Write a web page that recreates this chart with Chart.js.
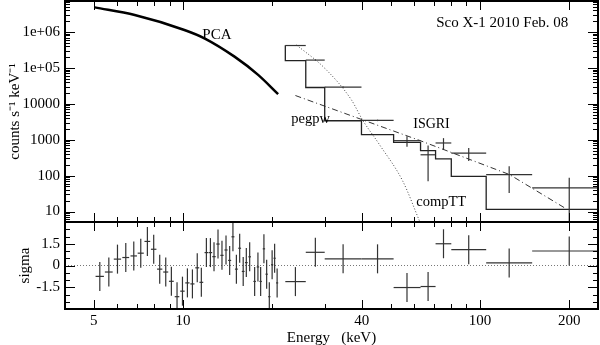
<!DOCTYPE html>
<html lang="en">
  <head>
    <meta charset="utf-8">
    <title>Sco X-1 2010 Feb. 08</title>
    <script src="https://cdn.jsdelivr.net/npm/chart.js@4.4.1/dist/chart.umd.min.js"></script>
    <style>
      html, body { margin: 0; padding: 0; background: #fff; }
      canvas { display: block; }
    </style>
  </head>
  <body>
    <canvas id="spec" width="600" height="345"></canvas>
    <script>
      // PCA model (keV, counts s-1 keV-1)
      var pcaE = [5.04, 6.87, 10.1, 11.8, 14.9, 17.9, 20.9];
      var pcaC = [4.85e6, 2.97e6, 1.14e6, 6.68e5, 2.06e5, 6.4e4, 1.86e4];

      // PCA residuals (sigma)
      var pcaResE = [5.24, 5.62, 6.01, 6.41, 6.82, 7.20, 7.58, 7.96, 8.34, 8.74,
                     9.13, 9.54, 9.95, 10.34, 10.75, 11.16, 11.52, 11.98, 12.36, 12.71,
                     13.11, 13.52, 13.95, 14.35, 14.72, 15.12, 15.51, 15.94, 16.33, 16.76,
                     17.42, 17.87, 18.25, 18.72, 19.12, 19.52, 19.95, 20.34, 20.74];
      var pcaRes = [-0.75, -0.45, 0.44, 0.55, 0.66, 0.85, 1.66, 1.12, -0.25, -0.45,
                    -1.09, -2.15, -1.77, -1.2, -1.27, -0.16, -1.16, 0.89, 0.89, 0.61,
                    1.48, 0.7, 1.07, 0.35, 1.98, -0.25, 1.19, -0.41, 0.2, 0.6,
                    -1.1, -0.1, -1.1, 1.15, -0.6, -2.15, 0.05, 0.5, -1.2];
      var pcaHalfWidth = 0.17;

      // ISGRI bins
      var isgriLo = [22.1, 25.9, 30.0, 39.9, 51.2, 63.1, 70.9, 80.1, 105, 150];
      var isgriHi = [25.9, 30.0, 39.9, 51.2, 63.1, 70.9, 80.1, 105, 150, 267];
      var isgriE = [23.9, 27.9, 34.6, 45.2, 56.8, 66.9, 75.4, 91.7, 125.5, 200];
      var isgriModel = [4.28e5, 1.6e5, 2.84e4, 3370, 1376, 841, 494, 291, 95.7, 11.4];
      var isgriRate = [4.2e5, 1.65e5, 2.9e4, 3450, 940, 380, 810, 420, 107, 45.5];
      var isgriErr = [1.2e4, 5e3, 1.2e3, 160, 300, 310, 295, 165, 74, 42];
      var isgriRes = [-1.11, 0.91, 0.46, 0.46, -1.52, -1.45, 1.5, 1.09, 0.18, 1.0];

      // model components
      var compE = [24.1, 30.0, 36.9, 40.2, 45.9, 55.0, 62.6];
      var compC = [4.35e5, 9.8e4, 1.29e4, 3590, 726, 69.5, 5.4];
      var pegE = [23.9, 40.2, 62.6, 125.8, 195.3];
      var pegC = [1.7e4, 3590, 957, 107, 11.9];

      // axes
      var xLabels = [5, 10, 40, 100, 200];
      var yLabels = [10, 100, 1000, 10000, 1e5, 1e6];
      var rLabels = [-1.5, 0, 1.5];

      var notes = [
        { text: 'PCA', x: 13.0, y: 8.3e5, size: 15 },
        { text: 'Sco X-1 2010 Feb. 08', x: 119, y: 1.78e6, size: 15 },
        { text: 'pegpw', x: 26.9, y: 3830, size: 14.5 },
        { text: 'ISGRI', x: 68.7, y: 2610, size: 14 },
        { text: 'compTT', x: 74.1, y: 17.8, size: 14.5 }
      ];

      var serif = "'Liberation Serif', 'Times New Roman', serif";
      Chart.defaults.font.family = serif;
      Chart.defaults.font.size = 15;
      Chart.defaults.color = '#000';

      function line(ctx, x1, y1, x2, y2) {
        ctx.beginPath();
        ctx.moveTo(x1, y1);
        ctx.lineTo(x2, y2);
        ctx.stroke();
      }

      function xy(xs, ys) {
        return xs.map(function (v, i) { return { x: v, y: ys[i] }; });
      }

      function noPad(s) {
        s.paddingTop = 0;
        s.paddingBottom = 0;
        s.paddingLeft = 0;
        s.paddingRight = 0;
      }

      var histo = isgriLo.map(function (v, i) { return { x: v, y: isgriModel[i] }; });
      histo.push({ x: isgriHi[isgriHi.length - 1], y: isgriModel[isgriModel.length - 1] });

      var isgriPts = isgriE.map(function (e, i) {
        return { x: e, y: isgriRate[i], xMin: isgriLo[i], xMax: isgriHi[i],
                 yMin: Math.max(isgriRate[i] - isgriErr[i], 1), yMax: isgriRate[i] + isgriErr[i] };
      });
      var isgriResPts = isgriE.map(function (e, i) {
        return { x: e, y: isgriRes[i], xMin: isgriLo[i], xMax: isgriHi[i],
                 yMin: isgriRes[i] - 1, yMax: isgriRes[i] + 1 };
      });
      var pcaResPts = pcaResE.map(function (e, i) {
        return { x: e, y: pcaRes[i], xMin: e - pcaHalfWidth, xMax: e + pcaHalfWidth,
                 yMin: pcaRes[i] - 1, yMax: pcaRes[i] + 1 };
      });

      var panels = {
        id: 'panels',
        beforeDatasetsDraw: function (chart) {
          var ctx = chart.ctx, a = chart.chartArea, r = chart.scales.r;
          var y0 = r.getPixelForValue(0);
          ctx.save();
          ctx.strokeStyle = '#777';
          ctx.lineWidth = 1;
          ctx.setLineDash([1, 2]);
          line(ctx, a.left, y0, a.right, y0);
          ctx.restore();
        },
        afterDatasetsDraw: function (chart) {
          var ctx = chart.ctx, xs = chart.scales.x;
          var y = chart.scales.y, r = chart.scales.r;

          // error bars
          chart.data.datasets.forEach(function (ds) {
            if (!ds.errorBars) return;
            var ys = chart.scales[ds.yAxisID];
            ctx.save();
            ctx.beginPath();
            ctx.rect(xs.left, ys.top, xs.width, ys.height);
            ctx.clip();
            ctx.strokeStyle = '#333';
            ctx.lineWidth = 1.2;
            ds.data.forEach(function (p) {
              var px = xs.getPixelForValue(p.x), py = ys.getPixelForValue(p.y);
              line(ctx, xs.getPixelForValue(p.xMin), py, xs.getPixelForValue(p.xMax), py);
              line(ctx, px, ys.getPixelForValue(p.yMin), px, ys.getPixelForValue(p.yMax));
            });
            ctx.restore();
          });

          ctx.save();
          ctx.strokeStyle = '#000';
          ctx.lineWidth = 1;

          // energy ticks on top, between panels and bottom
          for (var d = 0; d <= 2; d++) {
            for (var m = 1; m <= 9; m++) {
              var v = m * Math.pow(10, d);
              if (v < xs.min || v > xs.max) continue;
              var px = Math.round(xs.getPixelForValue(v)) + 0.5;
              var len = xLabels.indexOf(v) >= 0 ? 9 : 5;
              line(ctx, px, y.top, px, y.top + len);
              line(ctx, px, y.bottom - len, px, y.bottom + len);
              line(ctx, px, r.bottom - len, px, r.bottom);
            }
          }

          // count ticks
          for (d = 0; d <= 6; d++) {
            for (m = 1; m <= 9; m++) {
              v = m * Math.pow(10, d);
              if (v < y.min || v > y.max) continue;
              var py = Math.round(y.getPixelForValue(v)) + 0.5;
              len = m === 1 ? 10 : 5;
              line(ctx, xs.left, py, xs.left + len, py);
              line(ctx, xs.right - len, py, xs.right, py);
            }
          }

          // sigma ticks
          for (var k = -5; k <= 5; k++) {
            v = k * 0.5;
            py = Math.round(r.getPixelForValue(v)) + 0.5;
            len = k % 3 === 0 ? 10 : 5;
            line(ctx, xs.left, py, xs.left + len, py);
            line(ctx, xs.right - len, py, xs.right, py);
          }

          // frames
          ctx.lineWidth = 2;
          ctx.strokeRect(Math.round(xs.left), Math.round(y.top), Math.round(xs.width), Math.round(r.bottom - y.top));
          line(ctx, xs.left, Math.round(y.bottom), xs.right, Math.round(y.bottom));

          // labels
          ctx.fillStyle = '#000';
          ctx.textAlign = 'center';
          ctx.textBaseline = 'middle';
          notes.forEach(function (n) {
            ctx.font = n.size + 'px ' + serif;
            ctx.fillText(n.text, xs.getPixelForValue(n.x), y.getPixelForValue(n.y));
          });
          ctx.restore();
        }
      };

      new Chart(document.getElementById('spec'), {
        type: 'scatter',
        data: {
          datasets: [
            {
              type: 'line', label: 'PCA', data: xy(pcaE, pcaC), yAxisID: 'y',
              borderColor: '#000', borderWidth: 2.5, pointRadius: 0,
              cubicInterpolationMode: 'monotone'
            },
            {
              type: 'line', label: 'ISGRI model', data: histo, yAxisID: 'y',
              borderColor: '#222', borderWidth: 1.3, pointRadius: 0, stepped: 'after'
            },
            {
              type: 'line', label: 'compTT', data: xy(compE, compC), yAxisID: 'y',
              borderColor: '#444', borderWidth: 1, borderDash: [1, 2], pointRadius: 0,
              cubicInterpolationMode: 'monotone'
            },
            {
              type: 'line', label: 'pegpw', data: xy(pegE, pegC), yAxisID: 'y',
              borderColor: '#333', borderWidth: 1, borderDash: [6, 3, 1, 3], pointRadius: 0
            },
            { label: 'ISGRI', data: isgriPts, yAxisID: 'y', pointRadius: 0, errorBars: true },
            { label: 'PCA res', data: pcaResPts, yAxisID: 'r', pointRadius: 0, errorBars: true },
            { label: 'ISGRI res', data: isgriResPts, yAxisID: 'r', pointRadius: 0, errorBars: true }
          ]
        },
        options: {
          responsive: false,
          animation: false,
          devicePixelRatio: 1,
          layout: { padding: { top: 1, right: 2, left: 0, bottom: 0 } },
          plugins: { legend: { display: false }, tooltip: { enabled: false } },
          scales: {
            x: {
              type: 'logarithmic', min: 4, max: 250,
              grid: { display: false, drawTicks: false },
              border: { display: false },
              afterBuildTicks: function (s) { s.ticks = xLabels.map(function (v) { return { value: v }; }); },
              afterFit: function (s) { s.height = 36; noPad(s); },
              ticks: { padding: 3, maxRotation: 0, autoSkip: false,
                       callback: function (v) { return String(v); } },
              title: { display: true, text: 'Energy   (keV)', padding: { top: 0, bottom: -2 }, font: { size: 15 } }
            },
            r: {
              type: 'linear', position: 'left', stack: 'panels', stackWeight: 87,
              min: -3, max: 3,
              grid: { display: false, drawTicks: false },
              border: { display: false },
              afterBuildTicks: function (s) { s.ticks = rLabels.map(function (v) { return { value: v }; }); },
              afterFit: function (s) { s.width = 65; noPad(s); },
              ticks: { padding: 5, callback: function (v) { return String(v); } },
              title: { display: true, text: 'sigma', padding: { top: 16, bottom: 0 }, font: { size: 15 } }
            },
            y: {
              type: 'logarithmic', position: 'left', stack: 'panels', stackWeight: 221,
              min: 5.1, max: 7.3e6,
              grid: { display: false, drawTicks: false },
              border: { display: false },
              afterBuildTicks: function (s) { s.ticks = yLabels.map(function (v) { return { value: v }; }); },
              afterFit: function (s) { s.width = 65; noPad(s); },
              ticks: {
                padding: 5,
                callback: function (v) { return v >= 1e5 ? '1e+0' + Math.round(Math.log10(v)) : String(v); }
              },
              title: { display: true, text: 'counts s\u207B\u00B9 keV\u207B\u00B9', padding: { top: 6, bottom: 0 }, font: { size: 15 } }
            }
          }
        },
        plugins: [panels]
      });
    </script>
  </body>
</html>
